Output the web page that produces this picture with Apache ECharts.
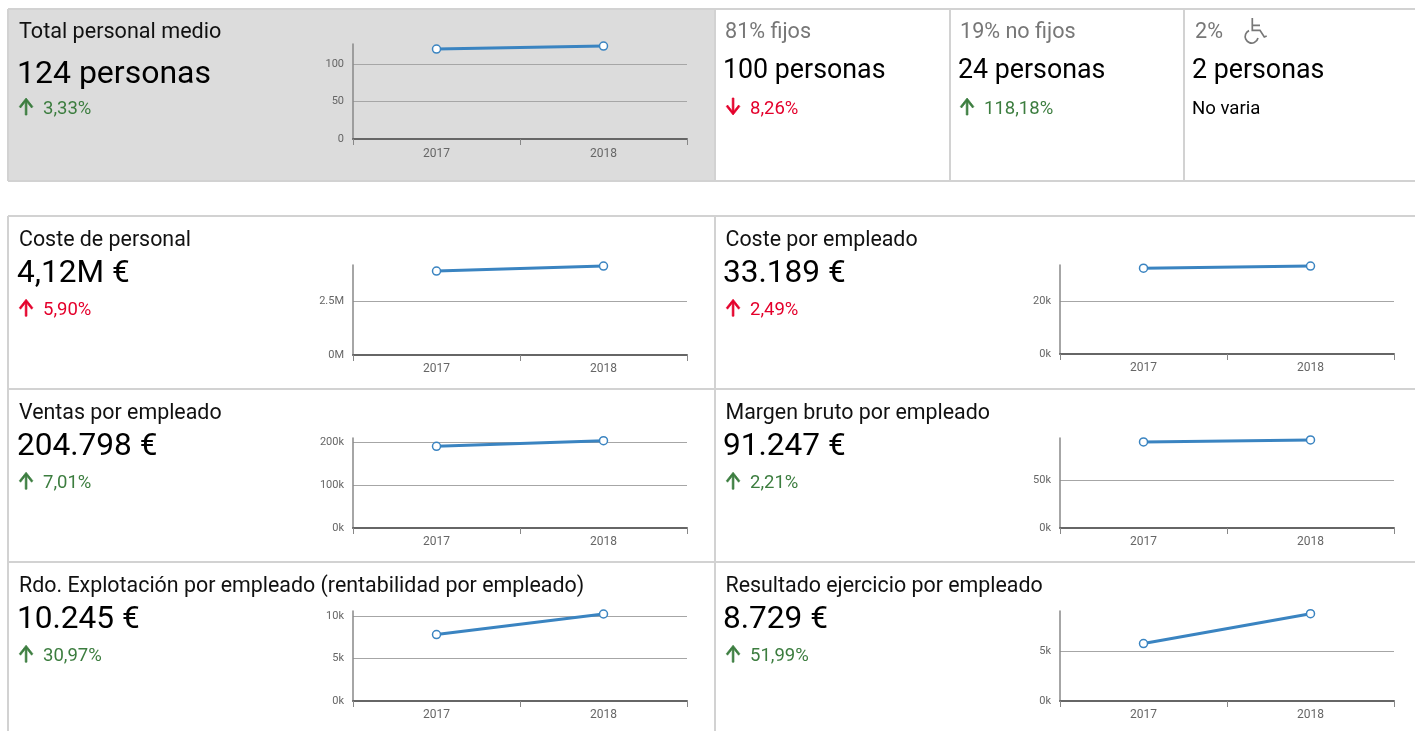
<!DOCTYPE html>
<html>
<head>
<meta charset="utf-8">
<style>
  html, body { margin: 0; padding: 0; background: #fff; overflow: hidden; }
  #main { width: 1415px; height: 731px; }
</style>
<script src="https://cdn.jsdelivr.net/npm/echarts@6/dist/echarts.min.js"></script>
</head>
<body>
<div id="main"></div>
<script>
const years = ['2017', '2018'];

// values
const plantilla = [120, 124];
const costePersonal = [3890000, 4120000];
const costeEmpleado = [32382, 33189];
const ventasEmpleado = [191380, 204798];
const margenEmpleado = [89274, 91247];
const rdoEmpleado = [7823, 10245];
const resultadoEmpleado = [5743, 8729];

const green = '#3c7d3f';
const red = '#e4002b';
const lineBlue = '#3a84c1';
const borderGrey = '#d2d2d2';

// arrows in a 24 unit box, wheelchair in plain pixels
echarts.graphic.registerShape('arrowUp', echarts.graphic.extendPath(
  'M4 12l1.41 1.41L11 7.83V20h2V7.83l5.58 5.59L20 12l-8-8-8 8z'));
echarts.graphic.registerShape('arrowDown', echarts.graphic.extendPath(
  'M20 12l-1.41-1.41L13 16.17V4h-2v12.17l-5.58-5.59L4 12l8 8 8-8z'));
echarts.graphic.registerShape('wheelchair', echarts.graphic.extendPath(
  'M17.3 6V18.3H25L29.3 25L31.7 24M17.3 13.3H25M14 18.6A6.5 6.5 0 1 0 23 26'));

const panels = [
  { data: plantilla, left: 353, top: 44, height: 95, max: 126.7, step: 50, unit: 1, suffix: '', margin: 9 },
  { data: costePersonal, left: 353, top: 265, height: 90, max: 4170000, step: 2500000, unit: 1000000, suffix: 'M', margin: 8 },
  { data: costeEmpleado, left: 1060, top: 265, height: 89, max: 33600, step: 20000, unit: 1000, suffix: 'k', margin: 8 },
  { data: ventasEmpleado, left: 353, top: 438, height: 90, max: 211000, step: 100000, unit: 1000, suffix: 'k', margin: 8 },
  { data: margenEmpleado, left: 1060, top: 438, height: 90, max: 93300, step: 50000, unit: 1000, suffix: 'k', margin: 8 },
  { data: rdoEmpleado, left: 353, top: 611, height: 90, max: 10600, step: 5000, unit: 1000, suffix: 'k', margin: 8 },
  { data: resultadoEmpleado, left: 1060, top: 611, height: 90, max: 9000, step: 5000, unit: 1000, suffix: 'k', margin: 8 }
];

function txt(x, y, text, size, color) {
  return {
    type: 'text', x: x, y: y, z: 10,
    style: { text: text, fontFamily: 'Roboto', fontSize: size, fill: color, textVerticalAlign: 'middle' }
  };
}

function arrow(name, x, y, color) {
  return {
    type: name, z: 10, x: x, y: y, scaleX: 0.84, scaleY: 1.06,
    style: { fill: color, stroke: color, lineWidth: 0.8 }
  };
}

function rule(x1, y1, x2, y2) {
  return {
    type: 'line', z: 1,
    shape: { x1: x1, y1: y1, x2: x2, y2: y2 },
    style: { stroke: borderGrey, lineWidth: 2 }
  };
}

// one lower block: title, big figure, arrow and change
function block(x, y, title, value, name, change, color) {
  const valueX = x === 8 ? 17 : 723;
  return [
    txt(x + 11 - (x === 8 ? 0 : 0.5), y + 25, title, 21.4, '#111'),
    txt(valueX, y + 58, value, 31.6, '#000'),
    arrow(name, x + 8, y + 79, color),
    txt(x + 35, y + 94, change, 18.5, color)
  ];
}

const graphics = [
  { type: 'rect', z: 0, shape: { x: 8, y: 9, width: 707, height: 172 }, style: { fill: '#dcdcdc' } },
  rule(8, 9, 1415, 9), rule(8, 181, 1415, 181), rule(8, 9, 8, 181),
  rule(715, 9, 715, 181), rule(950, 9, 950, 181), rule(1184, 9, 1184, 181),
  rule(8, 216, 1415, 216), rule(8, 389, 1415, 389), rule(8, 562, 1415, 562),
  rule(8, 216, 8, 731), rule(715, 216, 715, 731),

  txt(19, 33, 'Total personal medio', 21.6, '#111'),
  txt(17, 75, '124 personas', 32, '#000'),
  arrow('arrowUp', 16, 93.8, green),
  txt(43, 109, '3,33%', 18.5, green),

  txt(725, 33, '81% fijos', 21.6, '#777'),
  txt(723, 71, '100 personas', 26.8, '#000'),
  arrow('arrowDown', 723, 93.8, red),
  txt(750, 109, '8,26%', 18.5, red),

  txt(960, 33, '19% no fijos', 21.6, '#777'),
  txt(958, 71, '24 personas', 26.8, '#000'),
  arrow('arrowUp', 957, 93.8, green),
  txt(984, 109, '118,18%', 18.5, green),

  txt(1195, 33, '2%', 21.6, '#777'),
  { type: 'wheelchair', z: 10, x: 1235, y: 12, style: { fill: 'none', stroke: '#777', lineWidth: 1.7 } },
  txt(1192, 71, '2 personas', 26.8, '#000'),
  txt(1192, 109, 'No varia', 18.6, '#000')
].concat(
  block(8, 216, 'Coste de personal', '4,12M €', 'arrowUp', '5,90%', red),
  block(715, 216, 'Coste por empleado', '33.189 €', 'arrowUp', '2,49%', red),
  block(8, 389, 'Ventas por empleado', '204.798 €', 'arrowUp', '7,01%', green),
  block(715, 389, 'Margen bruto por empleado', '91.247 €', 'arrowUp', '2,21%', green),
  block(8, 562, 'Rdo. Explotación por empleado (rentabilidad por empleado)', '10.245 €', 'arrowUp', '30,97%', green),
  block(715, 562, 'Resultado ejercicio por empleado', '8.729 €', 'arrowUp', '51,99%', green)
);

const myChart = echarts.init(document.getElementById('main'), null, { renderer: 'canvas' });

myChart.setOption({
  animation: false,
  graphic: graphics,
  grid: panels.map(p => ({ left: p.left, top: p.top, width: 334, height: p.height })),
  xAxis: panels.map((p, i) => ({
    type: 'category',
    gridIndex: i,
    data: years,
    axisLine: { lineStyle: { color: '#666', width: 2 } },
    axisTick: { show: true, length: 6, lineStyle: { color: '#888' } },
    axisLabel: { color: '#666', fontFamily: 'Roboto', fontSize: 12, margin: p.margin },
    splitLine: { show: false }
  })),
  yAxis: panels.map((p, i) => ({
    type: 'value',
    gridIndex: i,
    min: 0,
    max: p.max,
    interval: p.step,
    axisLine: { show: true, lineStyle: { color: '#888', width: 1.5 } },
    axisTick: { show: false },
    axisLabel: {
      color: '#666', fontFamily: 'Roboto', fontSize: 11, margin: 9,
      showMaxLabel: false,
      formatter: v => (v / p.unit) + p.suffix
    },
    splitLine: { show: true, showMaxLine: false, showMinLine: false, lineStyle: { color: '#a6a6a6', width: 1 } }
  })),
  series: panels.map((p, i) => ({
    type: 'line',
    xAxisIndex: i,
    yAxisIndex: i,
    data: p.data,
    symbol: 'circle',
    symbolSize: 8,
    showSymbol: true,
    lineStyle: { color: lineBlue, width: 3 },
    itemStyle: { color: '#fff', borderColor: lineBlue, borderWidth: 1.5 }
  }))
});
</script>
</body>
</html>
